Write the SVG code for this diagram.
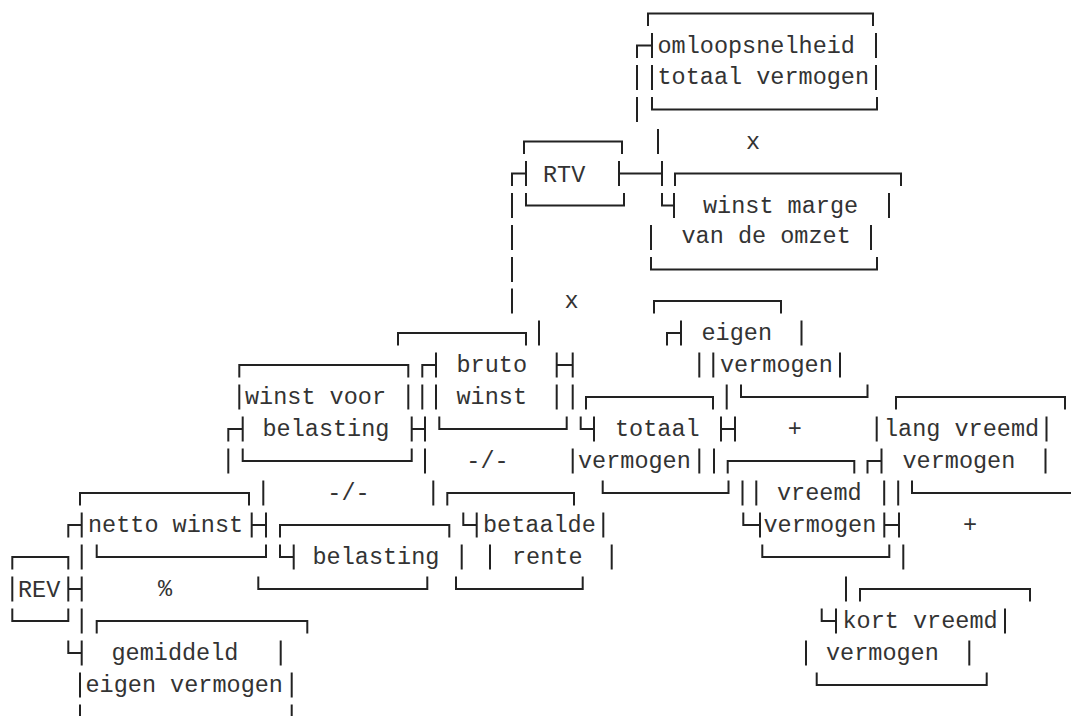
<svg xmlns="http://www.w3.org/2000/svg" width="1071" height="716" viewBox="0 0 1071 716">
  <style>
    .ln { fill: none; stroke: #222; stroke-width: 2; stroke-linejoin: miter; stroke-linecap: butt; }
    .t { font-family: "Liberation Mono", "DejaVu Sans Mono", monospace; font-size: 23.5px; fill: #333; }
    .op { text-anchor: middle; }
  </style>
  <rect width="1071" height="716" fill="#ffffff"/>

  <!-- connectors: tees, joints and the long verticals between boxes -->
  <g id="connectors" class="ln">
    <path d="M637 58 V45.5 H652 M637 65 V90 M637 97 V122 M658 129 V154"/>
    <path d="M512 186 V173.5 H526 M619 173.5 H662 M662 161 V186 M662 193 V205.5 H674"/>
    <path d="M512 193 V218 M512 225 V250 M512 257 V282 M512 288.5 V313.5"/>
    <path d="M539 320.5 V345.5 M667 345.5 V333 H681 M699.3 352.5 V377.5"/>
    <path d="M422.3 377.5 V365 H436 M556.7 365 H572.7 M572.7 352.5 V377.5 M422.3 384.5 V409.5 M572.7 384.5 V409.5 M726.7 384.5 V409.5"/>
    <path d="M228.3 441.5 V429 H242.7 M411.7 429 H425 M425 416.5 V441.5 M580.7 416.5 V429 H594 M721 429 H735 M735 416.5 V441.5"/>
    <path d="M228.3 448.5 V473.5 M425 448.5 V473.5 M714 448.5 V473.5 M867.5 473.5 V461 H881.5"/>
    <path d="M263.3 480.5 V505.5 M433.3 480.5 V505.5 M742.5 480.5 V505.5 M898.2 480.5 V505.5"/>
    <path d="M68.3 537.5 V525 H81.7 M251.7 525 H266 M266 512.5 V537.5 M463.3 512.5 V525 H476.7 M743.3 512.5 V525 H760 M884.3 525 H899 M899 512.5 V537.5"/>
    <path d="M81.7 544.5 V569.5 M280 544.5 V557 H293.7 M461.7 544.5 V569.5 M903.3 544.5 V569.5"/>
    <path d="M68.3 589 H81.7 M81.7 576.5 V601.5 M846 576.5 V601.5"/>
    <path d="M81.7 608.5 V633.5 M821.7 608.5 V621 H836 M68.3 640.5 V653 H81.7"/>
  </g>

  <!-- operators between the factors -->
  <g id="operators">
    <text class="t op" x="753" y="148.5">x</text>
    <text class="t op" x="571.5" y="308">x</text>
    <text class="t op" x="794.7" y="436">+</text>
    <text class="t op" x="970" y="532">+</text>
    <text class="t op" x="487.5" y="468">-/-</text>
    <text class="t op" x="348.5" y="500">-/-</text>
    <text class="t op" x="165" y="596">%</text>
  </g>

  <g id="omloopsnelheid">
    <path class="ln" d="M648 26 V13.5 H873 V26 M652 33 V58 M876 33 V58 M652 65 V90 M876 65 V90 M652 97 V109.5 H877 V97"/>
    <text class="t" x="657.5" y="53">omloopsnelheid</text>
    <text class="t" x="657.5" y="84">totaal vermogen</text>
  </g>

  <g id="rtv">
    <path class="ln" d="M524 154 V141.5 H622 V154 M526 161 V186 M619 161 V186 M526 193 V205.5 H624 V193"/>
    <text class="t" x="543" y="181.5">RTV</text>
  </g>

  <g id="winstmarge">
    <path class="ln" d="M675 186 V173.5 H901 V186 M674 193 V218 M889 193 V218 M651 225 V250 M871 225 V250 M651 257 V269.5 H877 V257"/>
    <text class="t" x="703" y="213">winst marge</text>
    <text class="t" x="681.5" y="243">van de omzet</text>
  </g>

  <g id="eigenvermogen">
    <path class="ln" d="M654 313.5 V301 H781 V313.5 M681 320.5 V345.5 M801.5 320.5 V345.5 M713.3 352.5 V377.5 M840 352.5 V377.5 M741 384.5 V397 H867.5 V384.5"/>
    <text class="t" x="701.5" y="340">eigen</text>
    <text class="t" x="720" y="372">vermogen</text>
  </g>

  <g id="brutowinst">
    <path class="ln" d="M398 345.5 V333 H526 V345.5 M436 352.5 V377.5 M556.7 352.5 V377.5 M436 384.5 V409.5 M556.7 384.5 V409.5 M439.3 416.5 V429 H566.7 V416.5"/>
    <text class="t" x="456.5" y="372">bruto</text>
    <text class="t" x="456.5" y="404">winst</text>
  </g>

  <g id="winstvoorbelasting">
    <path class="ln" d="M239.3 377.5 V365 H408.3 V377.5 M239.3 384.5 V409.5 M408.3 384.5 V409.5 M242.7 416.5 V441.5 M411.7 416.5 V441.5 M242.7 448.5 V461 H411.7 V448.5"/>
    <text class="t" x="245" y="404">winst voor</text>
    <text class="t" x="262.5" y="436">belasting</text>
  </g>

  <g id="totaalvermogen">
    <path class="ln" d="M586 409.5 V397 H713 V409.5 M594 416.5 V441.5 M721 416.5 V441.5 M572.7 448.5 V473.5 M699.3 448.5 V473.5 M602.7 480.5 V493 H728.5 V480.5"/>
    <text class="t" x="615" y="436">totaal</text>
    <text class="t" x="578" y="468">vermogen</text>
  </g>

  <g id="langvreemdvermogen">
    <path class="ln" d="M896 409.5 V397 H1065 V409.5 M876.7 416.5 V441.5 M1046.5 416.5 V441.5 M881.5 448.5 V473.5 M1045.5 448.5 V473.5 M912 480.5 V493 H1071"/>
    <text class="t" x="884" y="435.5">lang vreemd</text>
    <text class="t" x="902.5" y="468">vermogen</text>
  </g>

  <g id="vreemdvermogen">
    <path class="ln" d="M727.7 473.5 V461 H854.3 V473.5 M756.3 480.5 V505.5 M884.2 480.5 V505.5 M760 512.5 V537.5 M884.3 512.5 V537.5 M762.3 544.5 V557 H889.3 V544.5"/>
    <text class="t" x="777" y="500">vreemd</text>
    <text class="t" x="763.5" y="532">vermogen</text>
  </g>

  <g id="kortvreemdvermogen">
    <path class="ln" d="M860 601.5 V589 H1030 V601.5 M836 608.5 V633.5 M1005 608.5 V633.5 M806 640.5 V665.5 M969.3 640.5 V665.5 M816.7 672.5 V685 H986.7 V672.5"/>
    <text class="t" x="842.5" y="628">kort vreemd</text>
    <text class="t" x="826" y="660">vermogen</text>
  </g>

  <g id="betaalderente">
    <path class="ln" d="M447.3 505.5 V493 H574 V505.5 M476.7 512.5 V537.5 M603.3 512.5 V537.5 M490 544.5 V569.5 M611.7 544.5 V569.5 M456 576.5 V589 H582.7 V576.5"/>
    <text class="t" x="483" y="532">betaalde</text>
    <text class="t" x="512" y="564">rente</text>
  </g>

  <g id="belasting">
    <path class="ln" d="M280 537.5 V525 H449.3 V537.5 M293.7 544.5 V569.5 M258.3 576.5 V589 H427.3 V576.5"/>
    <text class="t" x="312.5" y="564">belasting</text>
  </g>

  <g id="nettowinst">
    <path class="ln" d="M80 505.5 V493 H249 V505.5 M81.7 512.5 V537.5 M251.7 512.5 V537.5 M96.7 544.5 V557 H266 V544.5"/>
    <text class="t" x="88" y="532">netto winst</text>
  </g>

  <g id="rev">
    <path class="ln" d="M12.3 569.5 V557 H68.3 V569.5 M12.3 576.5 V601.5 M68.3 576.5 V601.5 M12.3 608.5 V621 H68.3 V608.5"/>
    <text class="t" x="18" y="596.5">REV</text>
  </g>

  <g id="gemiddeldeigenvermogen">
    <path class="ln" d="M96.7 633.5 V621 H307.3 V633.5 M81.7 640.5 V665.5 M280.7 640.5 V665.5 M80 672.5 V697.5 M291.7 672.5 V697.5 M80 704.5 V716 M291.7 704.5 V716"/>
    <text class="t" x="111.5" y="660">gemiddeld</text>
    <text class="t" x="85.5" y="692">eigen vermogen</text>
  </g>
</svg>
